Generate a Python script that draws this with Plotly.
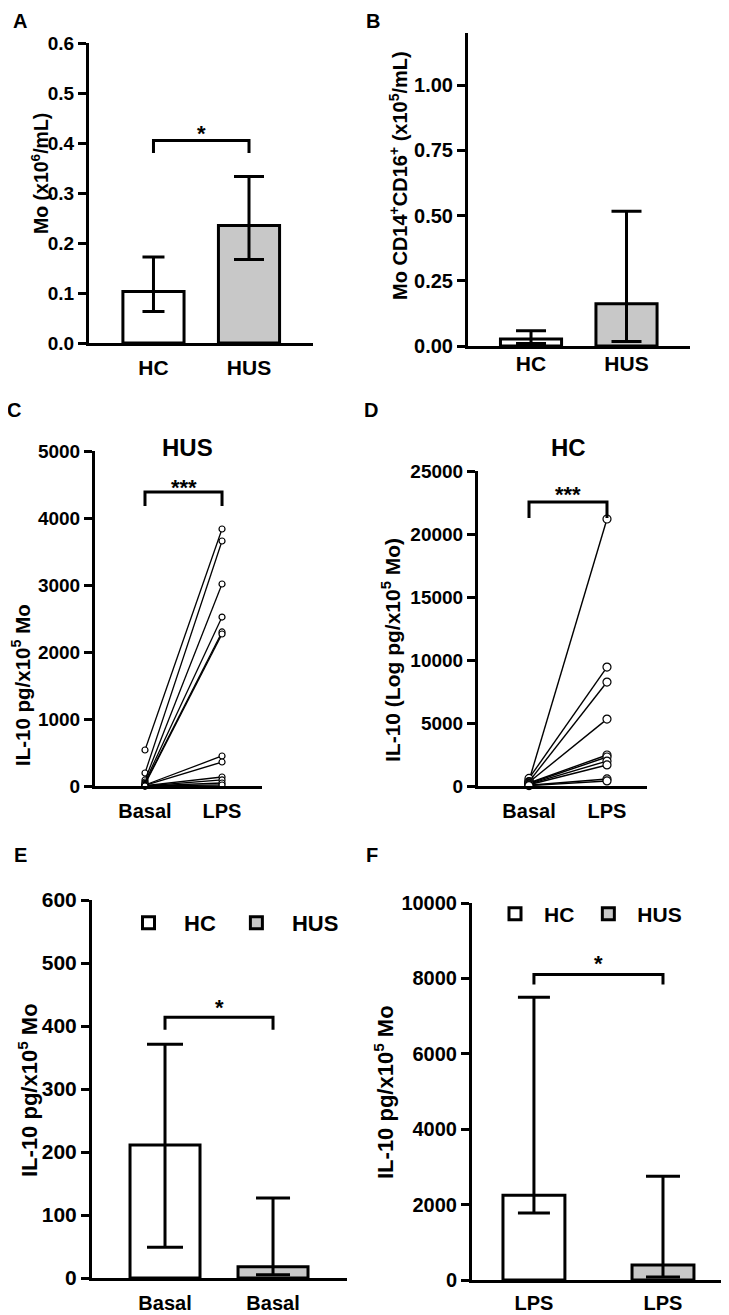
import plotly.graph_objects as go

W, H = 729, 1315
OFF = 8  # the page body margin shifts the figure by this many pixels
FONT = "Liberation Sans, Arial, Helvetica, sans-serif"

# ---------------- data ----------------
# Panel A: Mo (x10^6/mL), median with range
a_groups = ["HC", "HUS"]
a_mean = [0.103, 0.235]
a_upper = [0.172, 0.333]
a_lower = [0.063, 0.167]

# Panel B: Mo CD14+CD16+ (x10^5/mL)
b_groups = ["HC", "HUS"]
b_mean = [0.027, 0.162]
b_upper = [0.058, 0.517]
b_lower = [0.010, 0.017]

# Panel C: HUS, paired Basal vs LPS
c_conditions = ["Basal", "LPS"]
c_basal = [537, 194, 90, 60, 40, 25, 15, 10, 5, 0, 0, 0]
c_lps = [3836, 3657, 3015, 2522, 2299, 2269, 448, 358, 134, 90, 45, 15]

# Panel D: HC, paired Basal vs LPS
d_conditions = ["Basal", "LPS"]
d_basal = [420, 600, 350, 300, 250, 200, 150, 100, 60, 30]
d_lps = [21190, 9440, 8250, 5310, 2460, 2300, 1980, 1670, 560, 400]

# Panel E: basal IL-10
e_groups = ["HC", "HUS"]
e_labels = ["Basal", "Basal"]
e_mean = [211, 18]
e_upper = [371, 127]
e_lower = [49, 5]

# Panel F: LPS IL-10
f_groups = ["HC", "HUS"]
f_labels = ["LPS", "LPS"]
f_mean = [2250, 400]
f_upper = [7500, 2750]
f_lower = [1775, 80]

group_colors = {"HC": "white", "HUS": "#c8c8c8"}


def px(x):
    return (x - OFF) / W


def py(y):
    return 1 - (y - OFF) / H


fig = go.Figure()


def add_bars(groups, mean, upper, lower, xa, ya, width, caps, legend=None):
    for i, g in enumerate(groups):
        fig.add_trace(go.Bar(
            x=[i], y=[mean[i]], width=width, name=g,
            marker=dict(color=group_colors[g], line=dict(color="black", width=3)),
            error_y=dict(type="data", symmetric=False,
                         array=[upper[i] - mean[i]],
                         arrayminus=[mean[i] - lower[i]],
                         color="black", thickness=3, width=caps[i]),
            xaxis=xa, yaxis=ya,
            showlegend=legend is not None,
            legend=legend if legend else "legend",
        ))


def add_pairs(basal, lps, xa, ya, msize, lw):
    for b, l in zip(basal, lps):
        fig.add_trace(go.Scatter(
            x=[0, 1], y=[b, l], mode="lines+markers",
            line=dict(color="black", width=lw),
            marker=dict(symbol="circle", size=msize, color="white",
                        line=dict(color="black", width=1.2)),
            xaxis=xa, yaxis=ya, showlegend=False, cliponaxis=False,
            hoverinfo="y",
        ))


add_bars(a_groups, a_mean, a_upper, a_lower, "x", "y", 0.64, [11, 15])
add_bars(b_groups, b_mean, b_upper, b_lower, "x2", "y2", 0.64, [15, 15])
add_pairs(c_basal, c_lps, "x3", "y3", 6, 1.3)
add_pairs(d_basal, d_lps, "x4", "y4", 8, 1.4)
add_bars(e_groups, e_mean, e_upper, e_lower, "x5", "y5", 0.648, [18, 17], legend="legend")
add_bars(f_groups, f_mean, f_upper, f_lower, "x6", "y6", 0.48, [16, 17], legend="legend2")


def yax(domain_px, rng, tickvals, fmt, size, anchor):
    return dict(
        domain=[py(domain_px[0]), py(domain_px[1])], range=rng,
        tickvals=tickvals, tickformat=fmt, anchor=anchor,
        showline=True, linecolor="black", linewidth=3,
        ticks="outside", ticklen=8, tickwidth=3, tickcolor="black",
        showgrid=False, zeroline=False, fixedrange=True, automargin=False,
        tickfont=dict(family=FONT, size=size, color="black", weight="bold"),
    )


def xax(domain_px, rng, labels, size, anchor, standoff):
    return dict(
        domain=[px(domain_px[0]), px(domain_px[1])], range=rng,
        tickvals=list(range(len(labels))), ticktext=labels, anchor=anchor,
        showline=True, linecolor="black", linewidth=3, ticks="",
        showgrid=False, zeroline=False, fixedrange=True, automargin=False,
        ticklabelstandoff=standoff,
        tickfont=dict(family=FONT, size=size, color="black", weight="bold"),
    )


fig.update_layout(
    xaxis=xax((89, 313), [-0.675, 1.670], a_groups, 21, "y", 4),
    yaxis=yax((343, 43), [0, 0.6], [0, 0.1, 0.2, 0.3, 0.4, 0.5, 0.6], ".1f", 19, "x"),
    xaxis2=xax((468, 690), [-0.66, 1.665], b_groups, 21, "y2", -3),
    yaxis2=yax((346, 33), [0, 1.2], [0, 0.25, 0.5, 0.75, 1.0], ".2f", 20, "x2"),
    xaxis3=xax((95, 262), [-0.649, 1.519], c_conditions, 20, "y3", 5),
    yaxis3=yax((786, 451), [0, 5000], [0, 1000, 2000, 3000, 4000, 5000], "d", 19, "x3"),
    xaxis4=xax((478, 647), [-0.654, 1.513], d_conditions, 20, "y4", 5),
    yaxis4=yax((786, 471), [0, 25000], [0, 5000, 10000, 15000, 20000, 25000], "d", 19, "x4"),
    xaxis5=xax((92, 347), [-0.676, 1.685], e_labels, 20, "y5", 5),
    yaxis5=yax((1278, 900), [0, 600], [0, 100, 200, 300, 400, 500, 600], "d", 21, "x5"),
    xaxis6=xax((472, 727), [-0.48, 1.496], f_labels, 20, "y6", 3),
    yaxis6=yax((1280, 903), [0, 10000], [0, 2000, 4000, 6000, 8000, 10000], "d", 20, "x6"),
)

# significance brackets: (xaxis, yaxis, bar height, leg end, star y, star text)
brackets = [
    ("x", "y", 0.405, 0.38, 0.43, "*"),
    ("x3", "y3", 4388, 4180, 4537, "***"),
    ("x4", "y4", 22540, 21270, 23492, "***"),
    ("x5", "y5", 414, 394, 438, "*"),
    ("x6", "y6", 8106, 7841, 8530, "*"),
]
shapes = []
annotations = []
for xa, ya, yb, yl, ys, txt in brackets:
    shapes.append(dict(type="path", xref=xa, yref=ya,
                       path=f"M 0,{yl} L 0,{yb} L 1,{yb} L 1,{yl}",
                       line=dict(color="black", width=3)))
    annotations.append(dict(x=0.5, y=ys, xref=xa, yref=ya, text=txt, showarrow=False,
                            yanchor="middle", yshift=-5,
                            font=dict(family=FONT, size=22, color="black", weight="bold")))

# panel letters
for letter, x, y in [("A", 20, 21), ("B", 373, 21), ("C", 14, 410),
                     ("D", 371, 410), ("E", 20, 855), ("F", 372, 855)]:
    annotations.append(dict(x=px(x), y=py(y), xref="paper", yref="paper", text=letter,
                            showarrow=False, xanchor="center", yanchor="middle",
                            font=dict(family=FONT, size=20, color="black", weight="bold")))

# panel titles
for t, x, y in [("HUS", 187, 447), ("HC", 568, 447)]:
    annotations.append(dict(x=px(x), y=py(y), xref="paper", yref="paper", text=t,
                            showarrow=False, xanchor="center", yanchor="middle",
                            font=dict(family=FONT, size=24, color="black", weight="bold")))

# y-axis titles
ytitles = [
    ("Mo (x10<sup>6</sup>/mL)", 40, 173, 19.5),
    ("Mo CD14<sup>+</sup>CD16<sup>+</sup> (x10<sup>5</sup>/mL)", 398, 176, 20),
    ("IL-10 pg/x10<sup>5</sup> Mo", 21, 685, 20.5),
    ("IL-10 (Log pg/x10<sup>5</sup> Mo)", 391, 650, 21),
    ("IL-10 pg/x10<sup>5</sup> Mo", 28, 1090, 22),
    ("IL-10 pg/x10<sup>5</sup> Mo", 384, 1092, 22),
]
for t, x, y, s in ytitles:
    annotations.append(dict(x=px(x), y=py(y), xref="paper", yref="paper", text=t,
                            showarrow=False, textangle=-90, xanchor="center", yanchor="middle",
                            font=dict(family=FONT, size=s, color="black", weight="bold")))

fig.update_layout(
    width=W, height=H, autosize=False,
    margin=dict(l=0, r=0, t=0, b=0, pad=0, autoexpand=False),
    paper_bgcolor="white", plot_bgcolor="white",
    barmode="overlay",
    shapes=shapes, annotations=annotations,
    font=dict(family=FONT, color="black"),
    legend=dict(x=px(113), y=py(923), xanchor="left", yanchor="middle",
                orientation="h", itemwidth=61, bgcolor="rgba(0,0,0,0)",
                font=dict(family=FONT, size=22, color="black", weight="bold")),
    legend2=dict(x=px(486), y=py(914), xanchor="left", yanchor="middle",
                 orientation="h", itemwidth=48, bgcolor="rgba(0,0,0,0)",
                 font=dict(family=FONT, size=21, color="black", weight="bold")),
)

fig.write_html("out.html")
